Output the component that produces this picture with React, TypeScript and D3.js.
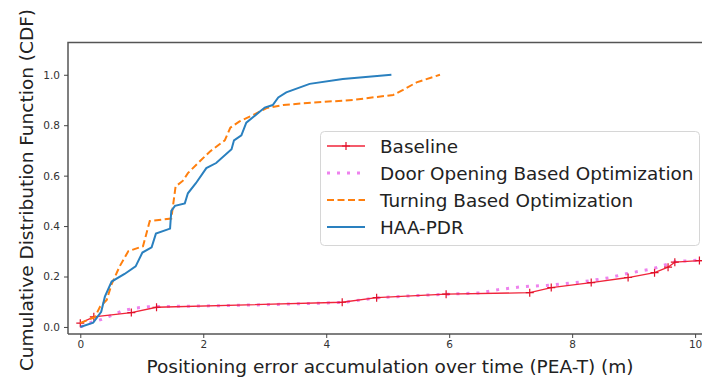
import { useEffect, useRef } from 'react';
import * as d3 from 'd3';

type Pt = [number, number];

// CDF curves (x: PEA-T in m, y: CDF)
const baseline: Pt[] = [
  [0, 0.015], [0.22, 0.04], [0.83, 0.057], [1.24, 0.078], [4.26, 0.098],
  [4.82, 0.116], [5.95, 0.13], [7.31, 0.136], [7.66, 0.156], [8.31, 0.176],
  [8.91, 0.196], [9.34, 0.215], [9.56, 0.237], [9.67, 0.257], [10.07, 0.263],
  [10.6, 0.27],
];

const doorOpening: Pt[] = [
  [0, 0.0], [0.2, 0.02], [0.35, 0.03], [0.5, 0.045], [0.7, 0.065], [0.9, 0.075],
  [1.1, 0.08], [2, 0.083], [3, 0.088], [4, 0.095], [4.3, 0.098], [4.8, 0.115],
  [5.5, 0.125], [6.5, 0.135], [6.8, 0.148], [7.2, 0.16], [7.6, 0.165],
  [8.2, 0.18], [8.6, 0.195], [8.9, 0.212], [9.3, 0.23], [9.6, 0.253],
  [9.7, 0.26], [10.1, 0.265], [10.6, 0.27],
];

const turning: Pt[] = [
  [0, 0.015], [0.24, 0.04], [0.32, 0.08], [0.43, 0.107], [0.51, 0.17],
  [0.64, 0.24], [0.78, 0.3], [1.02, 0.32], [1.13, 0.42], [1.48, 0.43],
  [1.55, 0.557], [1.67, 0.58], [1.75, 0.61], [1.94, 0.656], [2.11, 0.696],
  [2.35, 0.74], [2.44, 0.79], [2.59, 0.815], [2.81, 0.84], [3.03, 0.868],
  [3.3, 0.88], [3.79, 0.89], [4.44, 0.9], [4.65, 0.907], [5.09, 0.92],
  [5.25, 0.94], [5.47, 0.97], [5.85, 1.0],
];

const haaPdr: Pt[] = [
  [0, 0], [0.21, 0.017], [0.34, 0.06], [0.4, 0.12], [0.51, 0.18], [0.72, 0.21],
  [0.9, 0.24], [1.01, 0.295], [1.16, 0.316], [1.23, 0.37], [1.46, 0.39],
  [1.48, 0.46], [1.54, 0.48], [1.7, 0.49], [1.75, 0.53], [1.88, 0.57],
  [2.05, 0.63], [2.21, 0.65], [2.46, 0.705], [2.5, 0.74], [2.62, 0.76],
  [2.7, 0.81], [3.0, 0.87], [3.13, 0.88], [3.22, 0.91], [3.35, 0.93],
  [3.73, 0.964], [4.27, 0.983], [5.06, 1.0],
];

const xTicks = [0, 2, 4, 6, 8, 10];
const yTicks = [0, 0.2, 0.4, 0.6, 0.8, 1.0];

const legendLabels = [
  'Baseline',
  'Door Opening Based Optimization',
  'Turning Based Optimization',
  'HAA-PDR',
];

const W = 702;
const H = 381;
const FONT = 'DejaVu Sans, sans-serif';

const App = () => {
  const ref = useRef<SVGSVGElement>(null);

  useEffect(() => {
    const svg = d3.select(ref.current);
    svg.selectAll('*').remove();

    const left = 68, top = 42.5, bottom = 334, right = 740;
    const x = d3.scaleLinear().domain([-0.2, 10.73]).range([left, right]);
    const y = d3.scaleLinear().domain([-0.028, 1.128]).range([bottom, top]);

    svg.append('defs').append('clipPath').attr('id', 'plot')
      .append('rect')
      .attr('x', left).attr('y', top)
      .attr('width', right - left).attr('height', bottom - top);

    const line = d3.line<Pt>().x(d => x(d[0])).y(d => y(d[1]));
    const g = svg.append('g').attr('clip-path', 'url(#plot)');

    g.append('path').datum(doorOpening)
      .attr('d', line).attr('fill', 'none')
      .attr('stroke', '#ee82ee').attr('stroke-width', 3)
      .attr('stroke-dasharray', '3,7');

    g.append('path').datum(baseline)
      .attr('d', line).attr('fill', 'none')
      .attr('stroke', '#f0243a').attr('stroke-width', 1.3);

    g.append('g').selectAll('path')
      .data(baseline)
      .enter()
      .append('path')
      .attr('d', d => {
        const cx = x(d[0]), cy = y(d[1]);
        return `M${cx - 4},${cy}H${cx + 4}M${cx},${cy - 4}V${cy + 4}`;
      })
      .attr('stroke', '#e0102a').attr('stroke-width', 1.2);

    g.append('path').datum(turning)
      .attr('d', line).attr('fill', 'none')
      .attr('stroke', '#ff7f0e').attr('stroke-width', 2)
      .attr('stroke-dasharray', '7,3.5');

    g.append('path').datum(haaPdr)
      .attr('d', line).attr('fill', 'none')
      .attr('stroke', '#2a80bf').attr('stroke-width', 2);

    // frame
    svg.append('path')
      .attr('d', `M${left},${bottom}V${top}H${W}M${left},${bottom}H${W}`)
      .attr('fill', 'none').attr('stroke', '#555').attr('stroke-width', 1.5);

    const xAxis = svg.append('g')
      .attr('transform', `translate(0,${bottom})`)
      .call(d3.axisBottom(x).tickValues(xTicks).tickSize(4).tickPadding(3).tickFormat(d3.format('d')));
    xAxis.select('.domain').remove();

    const yAxis = svg.append('g')
      .attr('transform', `translate(${left},0)`)
      .call(d3.axisLeft(y).tickValues(yTicks).tickSize(4).tickPadding(4).tickFormat(d3.format('.1f')));
    yAxis.select('.domain').remove();

    svg.selectAll('.tick line').attr('stroke', '#444').attr('stroke-width', 1);
    svg.selectAll('.tick text')
      .attr('font-family', FONT).attr('font-size', 10.5).attr('fill', '#333');

    svg.append('text')
      .attr('x', 390).attr('y', 373)
      .attr('text-anchor', 'middle')
      .attr('font-family', FONT).attr('font-size', 18.5).attr('fill', '#222')
      .text('Positioning error accumulation over time (PEA-T) (m)');

    svg.append('text')
      .attr('transform', 'translate(33,190) rotate(-90)')
      .attr('text-anchor', 'middle')
      .attr('font-family', FONT).attr('font-size', 18.5).attr('fill', '#222')
      .text('Cumulative Distribution Function (CDF)');

    // legend
    const lg = svg.append('g');
    lg.append('rect')
      .attr('x', 320.5).attr('y', 131.5).attr('width', 379).attr('height', 114)
      .attr('rx', 4)
      .attr('fill', 'white').attr('fill-opacity', 0.85)
      .attr('stroke', '#d6d6d6');

    const styles = [
      { color: '#f0243a', width: 1.3, dash: null },
      { color: '#ee82ee', width: 3, dash: '3,7' },
      { color: '#ff7f0e', width: 2, dash: '7,3.5' },
      { color: '#2a80bf', width: 2, dash: null },
    ];

    legendLabels.forEach((label, i) => {
      const cy = 146 + i * 27;
      const s = styles[i];
      const p = lg.append('line')
        .attr('x1', 327).attr('x2', 365).attr('y1', cy).attr('y2', cy)
        .attr('stroke', s.color).attr('stroke-width', s.width);
      if (s.dash) p.attr('stroke-dasharray', s.dash);
      if (i === 0) {
        lg.append('path')
          .attr('d', `M346,${cy - 4}V${cy + 4}M342,${cy}H350`)
          .attr('stroke', '#e0102a').attr('stroke-width', 1.2);
      }
      lg.append('text')
        .attr('x', 380).attr('y', cy)
        .attr('dy', '0.36em')
        .attr('font-family', FONT).attr('font-size', 18.4).attr('fill', '#222')
        .text(label);
    });
  }, []);

  return (
    <svg
      ref={ref}
      width={W}
      height={H}
      style={{ position: 'absolute', left: 0, top: 0, background: 'white' }}
    />
  );
};

export default App;
